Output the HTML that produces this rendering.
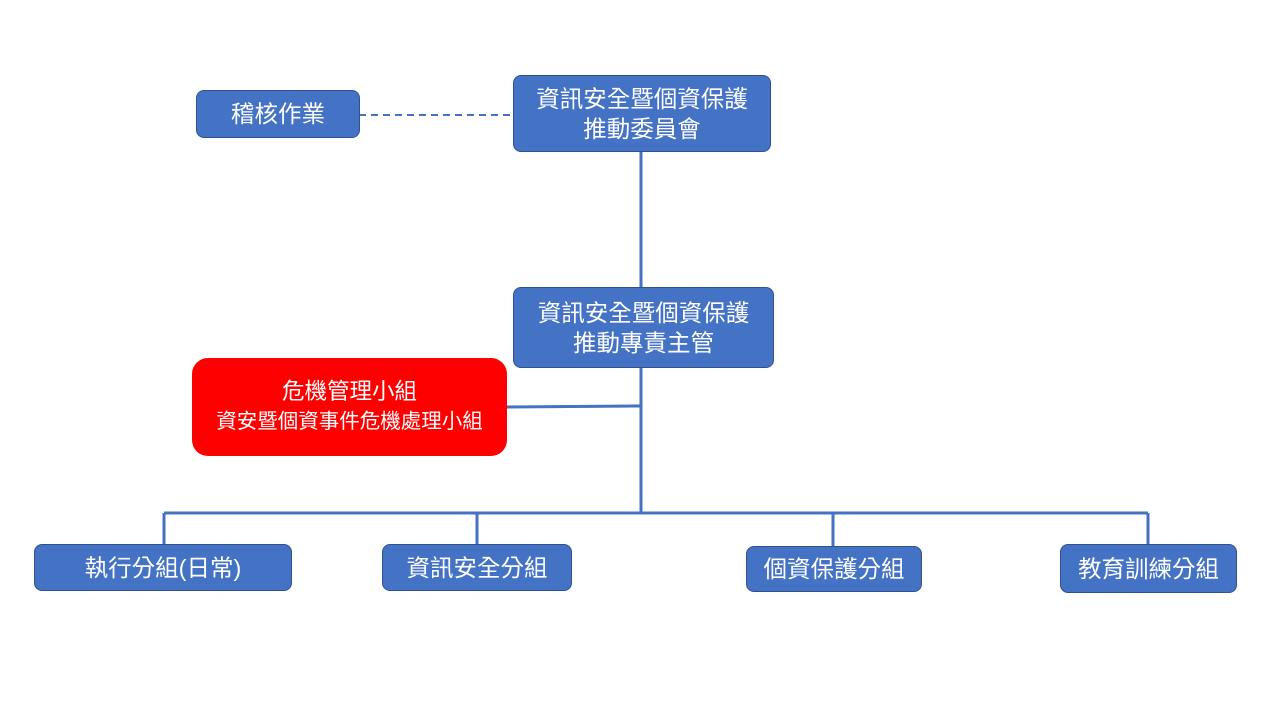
<!DOCTYPE html>
<html><head><meta charset="utf-8"><style>
body{margin:0;width:1280px;height:720px;background:#fff;position:relative;overflow:hidden;font-family:"Liberation Sans","Noto Sans CJK TC",sans-serif}
.b{position:absolute;background:#4472C4;border:1.5px solid #2F528F;border-radius:8px;color:#fff;display:flex;flex-direction:column;align-items:center;justify-content:center;font-size:23.5px;line-height:30px;box-sizing:border-box;text-align:center;white-space:nowrap}
svg{position:absolute;left:0;top:0}
</style></head><body>
<svg width="1280" height="720">
<g stroke="#4472C4" stroke-width="3" fill="none">
<line x1="641" y1="151" x2="641" y2="287"/>
<line x1="641" y1="367" x2="641" y2="513"/>
<line x1="506" y1="407" x2="641" y2="406"/>
<line x1="164" y1="513" x2="1148" y2="513"/>
<line x1="164" y1="513" x2="164" y2="544"/>
<line x1="477" y1="513" x2="477" y2="544"/>
<line x1="833" y1="513" x2="833" y2="546"/>
<line x1="1148" y1="513" x2="1148" y2="544"/>
<line x1="359" y1="115" x2="513" y2="115" stroke-width="2" stroke-dasharray="7,5"/>
</g></svg>
<div class="b" style="left:196px;top:90px;width:164px;height:48px">稽核作業</div>
<div class="b" style="left:513px;top:75px;width:258px;height:77px">資訊安全暨個資保護<br>推動委員會</div>
<div class="b" style="left:513px;top:287px;width:261px;height:81px">資訊安全暨個資保護<br>推動專責主管</div>
<div class="b" style="left:192px;top:358px;width:315px;height:98px;background:#FF0000;border:none;border-radius:16px"><span style="font-size:22.5px">危機管理小組</span><span style="font-size:20.5px">資安暨個資事件危機處理小組</span></div>
<div class="b" style="left:34px;top:544px;width:258px;height:47px">執行分組(日常)</div>
<div class="b" style="left:382px;top:544px;width:190px;height:47px">資訊安全分組</div>
<div class="b" style="left:746px;top:546px;width:176px;height:46px">個資保護分組</div>
<div class="b" style="left:1060px;top:544px;width:177px;height:49px">教育訓練分組</div>
</body></html>
